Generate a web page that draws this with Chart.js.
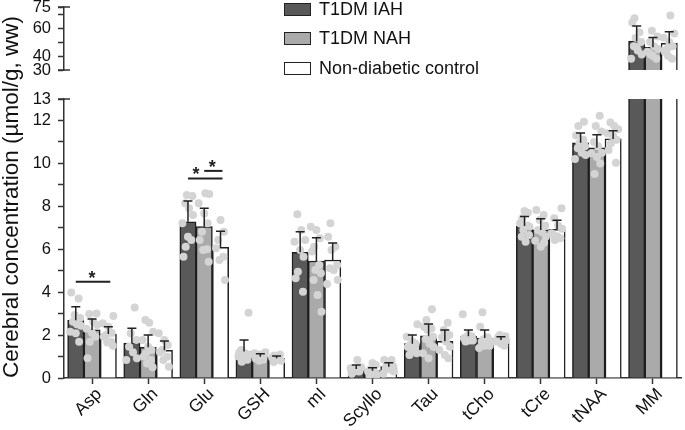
<!DOCTYPE html>
<html lang="en">
<head>
  <meta charset="UTF-8">
  <title>Cerebral concentration</title>
  <script src="https://cdn.jsdelivr.net/npm/chart.js"></script>
  <style>
    body { margin: 0; background: #fff; }
    .wrap { position: relative; width: 685px; height: 430px; font-family: "Liberation Sans", Arial, sans-serif; }
    .legend { position: absolute; left: 284px; top: 0; }
    .legend-row { position: absolute; left: 0; width: 260px; height: 20px; font-size: 18px; color: #111; white-space: nowrap; }
    .legend-row span { position: absolute; left: 0; top: 3px; width: 25px; height: 11px; border: 1.5px solid #222; }
    .legend-row div { position: absolute; left: 35px; top: -1px; }
  </style>
</head>
<body>
  <div class="wrap">
    <canvas id="chart" width="685" height="430"></canvas>
    <div class="legend">
      <div class="legend-row" style="top:0px"><span style="background:#595959"></span><div>T1DM IAH</div></div>
      <div class="legend-row" style="top:29px"><span style="background:#aaaaaa"></span><div>T1DM NAH</div></div>
      <div class="legend-row" style="top:59px"><span style="background:#ffffff"></span><div>Non-diabetic control</div></div>
    </div>
  </div>

  <script>
    // metabolites
    const CATEGORIES = ['Asp', 'Gln', 'Glu', 'GSH', 'mI', 'Scyllo', 'Tau', 'tCho', 'tCre', 'tNAA', 'MM'];
    const SERIES = ['T1DM IAH', 'T1DM NAH', 'Non-diabetic control'];

    // group means and SD (µmol/g, ww)
    const IAH_MEAN = [2.69, 1.63, 7.28, 1.23, 5.86, 0.42, 1.60, 1.94, 7.08, 10.96, 50.7];
    const IAH_SD   = [0.63, 0.69, 0.97, 0.54, 0.96, 0.18, 0.40, 0.30, 0.44, 0.46, 10.7];
    const NAH_MEAN = [2.24, 1.43, 7.05, 0.99, 5.45, 0.34, 1.97, 1.86, 6.90, 10.73, 46.2];
    const NAH_SD   = [0.51, 0.57, 0.86, 0.14, 1.09, 0.14, 0.55, 0.38, 0.52, 0.61, 7.1];
    const CTL_MEAN = [2.05, 1.29, 6.09, 0.92, 5.50, 0.53, 1.71, 1.77, 6.93, 11.14, 49.0];
    const CTL_SD   = [0.34, 0.43, 0.75, 0.11, 0.79, 0.18, 0.53, 0.15, 0.42, 0.38, 8.4];

    // individual subjects, one list per metabolite
    const IAH_DOTS = [
      [3.98, 3.71, 2.94, 2.8, 2.62, 2.5, 2.44, 2.16, 2.08, 1.69],
      [3.29, 2.08, 1.77, 1.46, 1.2, 0.92, 0.84],
      [8.53, 8.48, 8.14, 7.91, 7.6, 7.21, 6.58, 6.43, 6.12, 5.65],
      [3.04, 1.3, 1.15, 1.07, 1.0, 0.92, 0.85, 0.76, 1.2],
      [7.63, 6.9, 6.43, 6.35, 5.96, 5.65, 4.95, 4.65, 4.02],
      [0.84, 0.5, 0.45, 0.4, 0.35, 0.3, 0.2, 0.3],
      [2.5, 1.92, 1.7, 1.6, 1.54, 1.45, 1.38, 1.3, 1.15, 1.07],
      [2.97, 2.0, 1.95, 1.9, 1.85, 1.8, 1.77, 1.75, 1.7, 1.75],
      [7.78, 7.7, 7.44, 7.2, 7.1, 6.9, 6.66, 6.58, 6.35, 7.05],
      [11.94, 11.74, 11.3, 11.1, 10.94, 10.8, 10.7, 10.5, 10.39, 10.2],
      [67, 64, 57, 53, 50, 47, 44, 41, 38, 46]
    ];
    const NAH_DOTS = [
      [3.01, 2.98, 2.62, 2.47, 2.3, 2.1, 1.92, 1.69, 0.92],
      [2.7, 2.58, 2.16, 1.77, 1.46, 1.3, 1.15, 1.0, 0.84, 0.68, 0.5],
      [8.61, 8.57, 8.14, 7.67, 7.21, 6.82, 6.43, 6.0, 5.96, 5.42],
      [1.2, 1.15, 1.1, 1.0, 0.95, 0.9, 0.85, 0.8],
      [7.05, 6.9, 6.51, 6.12, 5.89, 5.27, 5.03, 4.88, 4.57, 3.87, 3.09],
      [0.7, 0.6, 0.4, 0.3, 0.25, 0.2, 0.15, 0.1],
      [3.2, 2.7, 2.39, 2.31, 2.24, 1.92, 1.8, 1.6, 1.45, 1.15, 0.92],
      [3.06, 2.39, 1.9, 1.8, 1.75, 1.7, 1.6, 1.5, 1.4, 1.5],
      [7.83, 7.6, 7.36, 7.1, 6.9, 6.8, 6.58, 6.4, 6.12, 6.3],
      [12.22, 11.74, 11.48, 11.0, 10.8, 10.5, 10.47, 10.3, 10.0, 9.5],
      [58, 54, 50, 47, 45, 43, 40, 38, 41]
    ];
    const CTL_DOTS = [
      [2.89, 2.55, 2.39, 2.1, 2.0, 1.92, 1.69, 1.65, 1.5],
      [2.08, 1.77, 1.54, 1.3, 1.2, 0.99, 0.84, 0.53],
      [7.36, 6.82, 6.43, 6.04, 5.65, 5.5, 4.57],
      [1.1, 1.05, 0.95, 0.9, 0.85, 0.8, 0.75],
      [7.21, 6.58, 6.12, 5.96, 5.27, 5.11, 5.03, 4.57, 4.38],
      [0.84, 0.84, 0.7, 0.55, 0.5, 0.4, 0.3, 0.2],
      [2.58, 2.24, 2.0, 1.9, 1.7, 1.46, 1.3, 1.07, 0.92],
      [2.0, 1.95, 1.9, 1.8, 1.75, 1.7, 1.6, 1.5],
      [7.91, 7.44, 7.1, 6.95, 6.74, 6.6, 6.51, 6.43, 6.7],
      [11.9, 11.74, 11.59, 11.4, 11.28, 11.1, 10.94, 10.62, 10.03],
      [69, 56, 53, 50, 47, 45, 43, 38, 40]
    ];

    // significance brackets: category, from series, to series, height
    const SIG_CATEGORY = ['Asp', 'Glu', 'Glu'];
    const SIG_FROM = [0, 0, 1];
    const SIG_TO = [2, 2, 2];
    const SIG_LEVEL = [4.49, 9.3, 9.65];

    // axis ticks
    const LOWER_TICK_LABELS = [0, 2, 4, 6, 8, 10, 12, 13];
    const UPPER_TICKS = [30, 40, 50, 60, 70, 75];
    const UPPER_TICK_LABELS = [30, 40, 60, 75];

    const FONT = '"Liberation Sans", Arial, sans-serif';
    const FILLS = ['#595959', '#aaaaaa', '#ffffff'];
    const GROUP = 0.87;               // share of a category taken by the 3 bars
    const SLOT = GROUP / 3;
    const BAR_PX = 16.3;
    const JITTER = [-0.08, 0.05, -0.02, 0.08, -0.05, 0.02, 0.09, -0.1, 0.0, 0.06, -0.04];

    const means = [IAH_MEAN, NAH_MEAN, CTL_MEAN];
    const sds = [IAH_SD, NAH_SD, CTL_SD];
    const dots = [IAH_DOTS, NAH_DOTS, CTL_DOTS];
    const isBreak = c => c === 'MM';
    const slotX = (i, s) => i + (s - 1) * SLOT;

    const barStyle = s => ({
      backgroundColor: FILLS[s], borderColor: '#1e1e1e', borderWidth: 1.5,
      grouped: false, barThickness: BAR_PX, clip: 0, order: 3, xAxisID: 'xs'
    });

    const datasets = [];
    // bars, lower part of the axis
    SERIES.forEach((name, s) => {
      datasets.push(Object.assign({
        label: name, yAxisID: 'y',
        data: CATEGORIES.map((c, i) => ({ x: slotX(i, s), y: means[s][i] }))
      }, barStyle(s)));
    });
    // bars, upper part (only the broken MM column)
    SERIES.forEach((name, s) => {
      datasets.push(Object.assign({
        label: name + ' (upper)', yAxisID: 'yTop',
        data: CATEGORIES.map((c, i) => ({ x: slotX(i, s), y: isBreak(c) ? means[s][i] : null }))
      }, barStyle(s)));
    });
    // individual points
    const lowPts = [], highPts = [];
    CATEGORIES.forEach((c, i) => {
      for (let s = 0; s < 3; s++) {
        dots[s][i].forEach((v, k) => {
          const p = { x: slotX(i, s) + JITTER[(k + s * 3 + i) % JITTER.length], y: v };
          (isBreak(c) ? highPts : lowPts).push(p);
        });
      }
    });
    datasets.push({ type: 'scatter', data: lowPts, xAxisID: 'xs', yAxisID: 'y', pointRadius: 4,
      pointBackgroundColor: '#d4d4d4', pointBorderWidth: 0, order: 1 });
    datasets.push({ type: 'scatter', data: highPts, xAxisID: 'xs', yAxisID: 'yTop', pointRadius: 4,
      pointBackgroundColor: '#d4d4d4', pointBorderWidth: 0, order: 1 });

    const INK = '#222';
    const tickFont = { family: FONT, size: 16.5 };

    const extras = {
      id: 'extras',
      afterDatasetsDraw(chart) {
        const ctx = chart.ctx;
        const y = chart.scales.y, yTop = chart.scales.yTop;
        ctx.save();
        ctx.strokeStyle = INK;
        ctx.lineWidth = 1.5;
        // error bars (mean + SD)
        for (let s = 0; s < 3; s++) {
          const meta = chart.getDatasetMeta(s);
          CATEGORIES.forEach((c, i) => {
            const sc = isBreak(c) ? yTop : y;
            const x = meta.data[i].x;
            const y0 = sc.getPixelForValue(means[s][i]);
            const y1 = sc.getPixelForValue(means[s][i] + sds[s][i]);
            ctx.beginPath();
            ctx.moveTo(x, y0); ctx.lineTo(x, y1);
            ctx.moveTo(x - 4.5, y1); ctx.lineTo(x + 4.5, y1);
            ctx.stroke();
          });
        }
        // significance
        ctx.lineWidth = 2;
        ctx.fillStyle = INK;
        ctx.font = 'bold 18px ' + FONT;
        ctx.textAlign = 'center';
        ctx.textBaseline = 'alphabetic';
        SIG_CATEGORY.forEach((c, k) => {
          const i = CATEGORIES.indexOf(c);
          const x0 = chart.getDatasetMeta(SIG_FROM[k]).data[i].x;
          const x1 = chart.getDatasetMeta(SIG_TO[k]).data[i].x;
          const ly = y.getPixelForValue(SIG_LEVEL[k]);
          ctx.beginPath();
          ctx.moveTo(x0, ly); ctx.lineTo(x1 + 2, ly);
          ctx.stroke();
          // the lower Glu star sits left of the upper bracket
          const sx = (k === 1) ? x0 + 8 : (x0 + x1) / 2;
          ctx.fillText('*', sx, ly + 2);
        });
        ctx.restore();
      },
      afterDraw(chart) {
        const ctx = chart.ctx;
        const y = chart.scales.y, yTop = chart.scales.yTop;
        const ax = y.right;
        ctx.save();
        // end caps of the broken axis
        ctx.strokeStyle = '#333';
        ctx.lineWidth = 1.5;
        [yTop.top, yTop.bottom, y.top].forEach(py => {
          ctx.beginPath();
          ctx.moveTo(ax - 6, py); ctx.lineTo(ax + 6, py);
          ctx.stroke();
        });
        // y title across both parts
        ctx.fillStyle = '#111';
        ctx.font = '22.5px ' + FONT;
        ctx.textAlign = 'center';
        ctx.textBaseline = 'middle';
        ctx.translate(12, 197);
        ctx.rotate(-Math.PI / 2);
        ctx.fillText('Cerebral concentration (µmol/g, ww)', 0, 0);
        ctx.restore();
      }
    };

    const fixWidth = s => { s.width = 64; s.paddingTop = 0; s.paddingBottom = 0; };

    new Chart(document.getElementById('chart'), {
      type: 'bar',
      data: { labels: CATEGORIES, datasets: datasets },
      options: {
        responsive: false,
        animation: false,
        layout: { padding: { top: 7, right: 1, left: 0, bottom: 0 } },
        plugins: { legend: { display: false }, tooltip: { enabled: false } },
        scales: {
          x: {
            type: 'category', labels: CATEGORIES, offset: true, display: true,
            grid: { display: true, drawOnChartArea: false, offset: false, tickLength: 6, color: '#333', tickWidth: 1.5 },
            border: { display: true, color: '#333', width: 1.5 },
            ticks: { font: { family: FONT, size: 17.5 }, color: '#111', maxRotation: 45, minRotation: 45,
              padding: 0, labelOffset: 7, autoSkip: false },
            afterFit(s) { s.height = 52; s.paddingLeft = 0; s.paddingRight = 0; }
          },
          xs: {
            type: 'linear', display: false, offset: false, grid: { offset: false },
            min: -0.5, max: 10.5, bounds: 'data'
          },
          y: {
            stack: 'broken', stackWeight: 279,
            min: 0, max: 13,
            grid: { drawOnChartArea: false, tickLength: 6, color: '#333', tickWidth: 1.5 },
            border: { display: true, color: '#333', width: 1.5 },
            ticks: {
              stepSize: 1, font: tickFont, color: '#111', padding: 7, autoSkip: false,
              callback: v => LOWER_TICK_LABELS.includes(v) ? String(v) : ''
            },
            afterFit: fixWidth
          },
          yGap: {
            type: 'linear', stack: 'broken', stackWeight: 29, position: 'left',
            min: 0, max: 1,
            grid: { display: false }, border: { display: false }, ticks: { display: false },
            afterFit: fixWidth
          },
          yTop: {
            type: 'linear', stack: 'broken', stackWeight: 63, position: 'left',
            min: 30, max: 75,
            grid: { drawOnChartArea: false, tickLength: 6, color: '#333', tickWidth: 1.5 },
            border: { display: true, color: '#333', width: 1.5 },
            ticks: {
              font: tickFont, color: '#111', padding: 7, autoSkip: false,
              callback: v => UPPER_TICK_LABELS.includes(v) ? String(v) : ''
            },
            afterBuildTicks(s) { s.ticks = UPPER_TICKS.map(v => ({ value: v })); },
            afterFit: fixWidth
          }
        }
      },
      plugins: [extras]
    });
  </script>
</body>
</html>
